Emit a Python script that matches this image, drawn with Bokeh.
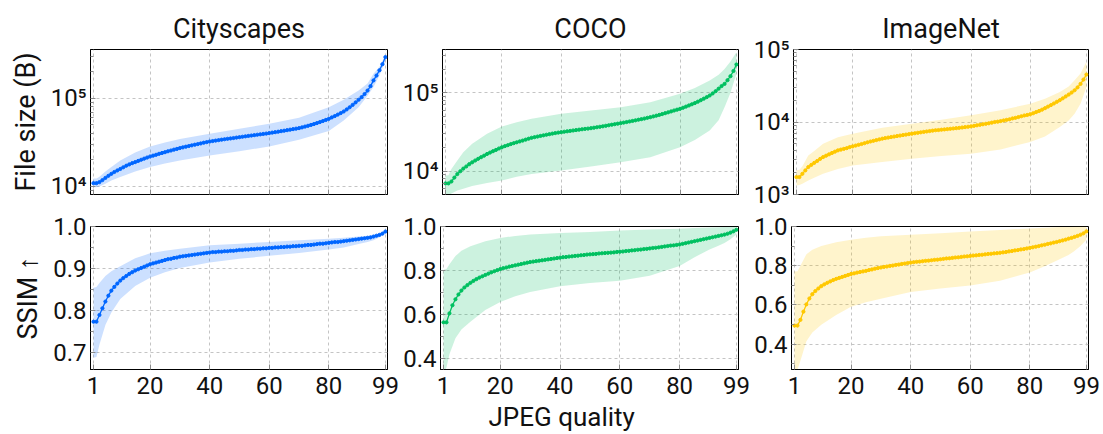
import numpy as np
from bokeh.plotting import figure
from bokeh.layouts import column, row
from bokeh.models import Range1d, FixedTicker, CustomJSTickFormatter, PrintfTickFormatter, Title
from bokeh.embed import file_html
from bokeh.resources import INLINE

# ---------------- data ----------------
QUALITY = list(range(1, 100))
Q_BAND = [1, 2, 3, 5, 7, 10, 15, 20, 25, 30, 40, 50, 60, 70, 80, 85, 90, 93, 95, 97, 99]
X_TICKS = [1, 20, 40, 60, 80, 99]
DATASETS = ["Cityscapes", "COCO", "ImageNet"]
COLORS = ["#0066ff", "#00c060", "#ffc800"]

# File size (kB) mean per quality 1..99
CITY_SIZE_KB = [10.9, 10.9, 11.2, 11.8, 12.5, 13.2, 13.9, 14.6, 15.2, 15.8,
                16.5, 17.2, 17.8, 18.4, 18.9, 19.5, 20.1, 20.7, 21.3, 21.9,
                22.4, 22.9, 23.5, 24.0, 24.5, 25.1, 25.6, 26.2, 26.7, 27.3,
                27.8, 28.3, 28.8, 29.3, 29.8, 30.3, 30.8, 31.4, 31.9, 32.4,
                32.8, 33.2, 33.6, 34.0, 34.4, 34.8, 35.1, 35.5, 35.9, 36.3,
                36.7, 37.1, 37.5, 37.9, 38.3, 38.7, 39.1, 39.5, 39.9, 40.4,
                40.9, 41.4, 41.9, 42.5, 43.0, 43.6, 44.2, 44.8, 45.4, 46.0,
                46.9, 47.9, 48.9, 50.0, 51.2, 52.5, 53.9, 55.4, 57.0, 58.7,
                60.9, 63.1, 65.5, 68.2, 71.1, 75.0, 79.4, 84.5, 90.2, 96.6,
                103.5, 112.2, 123.0, 138.0, 160.3, 182.0, 209.0, 245.0, 295.0]
CITY_SIZE_HI_KB = [12.3, 12.3, 12.9, 14.8, 16.6, 19.7, 24.3, 28.5, 31.6, 34.7, 39.8,
                   45.2, 51.5, 60.3, 79.4, 96.6, 123, 148, 191, 229, 309]
CITY_SIZE_LO_KB = [9.8, 9.8, 10.0, 10.7, 11.7, 12.8, 14.8, 16.6, 18.2, 19.7, 22.5,
                   25.1, 28.5, 33.9, 42.6, 56.2, 79.4, 107, 135, 182, 269]

COCO_SIZE_KB = [7.0, 7.0, 7.4, 8.3, 9.2, 10.0, 10.8, 11.5, 12.3, 13.0,
                13.7, 14.4, 15.1, 15.8, 16.6, 17.3, 18.0, 18.7, 19.5, 20.2,
                20.9, 21.5, 22.2, 22.8, 23.4, 24.0, 24.6, 25.3, 26.0, 26.7,
                27.2, 27.7, 28.2, 28.7, 29.2, 29.7, 30.2, 30.7, 31.1, 31.5,
                31.9, 32.3, 32.7, 33.1, 33.5, 33.9, 34.3, 34.7, 35.0, 35.4,
                35.9, 36.4, 36.9, 37.4, 38.0, 38.6, 39.2, 39.8, 40.4, 41.0,
                41.7, 42.4, 43.1, 43.8, 44.6, 45.4, 46.2, 47.0, 48.0, 48.9,
                50.0, 51.1, 52.3, 53.6, 55.0, 56.4, 57.9, 59.5, 61.0, 62.5,
                64.5, 66.7, 69.0, 71.5, 74.1, 77.1, 80.5, 84.2, 88.1, 92.5,
                98.2, 105.0, 113.0, 122.0, 130.0, 145.0, 163.0, 190.0, 230.0]
COCO_SIZE_HI_KB = [8.8, 8.9, 10.7, 13.7, 17.5, 22.4, 30.0, 37.2, 42.0, 46.6, 54.0,
                   59.6, 65.6, 75.9, 97.0, 115, 144, 170, 202, 251, 330]
COCO_SIZE_LO_KB = [4.8, 4.9, 5.2, 5.7, 6.0, 6.5, 7.1, 7.6, 8.5, 9.2, 10.2,
                   11.5, 13.0, 15.1, 20.2, 25.1, 33.0, 44.7, 65.6, 100, 175]

INET_SIZE_KB = [1.74, 1.74, 1.93, 2.15, 2.39, 2.56, 2.73, 2.90, 3.10, 3.28,
                3.43, 3.58, 3.74, 3.90, 4.06, 4.16, 4.26, 4.36, 4.51, 4.61,
                4.73, 4.85, 4.97, 5.10, 5.25, 5.38, 5.50, 5.63, 5.76, 5.89,
                6.00, 6.10, 6.20, 6.30, 6.40, 6.50, 6.60, 6.70, 6.80, 6.90,
                7.00, 7.10, 7.20, 7.30, 7.40, 7.50, 7.60, 7.70, 7.75, 7.83,
                7.90, 7.98, 8.06, 8.14, 8.22, 8.30, 8.40, 8.50, 8.60, 8.71,
                8.85, 9.00, 9.15, 9.30, 9.45, 9.60, 9.80, 10.0, 10.1, 10.3,
                10.5, 10.7, 10.9, 11.2, 11.4, 11.7, 12.0, 12.3, 12.5, 12.8,
                13.2, 13.7, 14.2, 14.8, 15.5, 16.3, 17.1, 18.0, 19.0, 20.0,
                21.2, 22.5, 23.9, 25.5, 27.4, 30.0, 33.5, 38.5, 45.1]
INET_SIZE_HI_KB = [2.15, 2.19, 2.45, 3.46, 3.98, 5.01, 6.17, 6.90, 7.59, 8.32, 9.48,
                   10.7, 12.4, 14.5, 17.9, 20.9, 26.0, 30.9, 37.7, 46.8, 67.6]
INET_SIZE_LO_KB = [1.33, 1.35, 1.41, 1.56, 1.70, 1.93, 2.24, 2.51, 2.66, 2.80, 3.11,
                   3.39, 3.65, 4.17, 5.30, 6.31, 8.53, 10.5, 13.0, 17.8, 30.5]

# SSIM mean per quality 1..99
CITY_SSIM = [.773, .773, .789, .805, .821, .835, .847, .856, .864, .871,
             .877, .882, .887, .891, .895, .898, .901, .904, .907, .910,
             .912, .914, .916, .918, .920, .922, .923, .925, .926, .928,
             .929, .930, .931, .932, .933, .934, .935, .936, .937, .938,
             .939, .939, .940, .940, .941, .941, .942, .942, .943, .944,
             .944, .945, .945, .946, .946, .947, .947, .948, .948, .949,
             .949, .950, .950, .951, .951, .952, .952, .953, .953, .954,
             .954, .955, .956, .956, .957, .958, .959, .959, .960, .961,
             .962, .963, .963, .964, .965, .966, .967, .968, .969, .970,
             .971, .972, .973, .974, .976, .978, .980, .983, .988]
CITY_SSIM_HI = [.854, .856, .865, .882, .893, .905, .924, .936, .942, .947, .955,
                .959, .963, .967, .971, .973, .976, .978, .980, .983, .988]
CITY_SSIM_LO = [.687, .689, .718, .765, .795, .827, .858, .878, .891, .901, .914,
                .923, .930, .937, .945, .950, .958, .963, .967, .974, .986]

COCO_SSIM = [.563, .563, .604, .641, .668, .690, .708, .722, .733, .743,
             .752, .760, .767, .773, .779, .785, .791, .796, .801, .806,
             .810, .813, .817, .820, .823, .826, .829, .832, .835, .838,
             .840, .842, .844, .846, .848, .850, .852, .854, .856, .858,
             .860, .861, .863, .864, .866, .867, .869, .870, .872, .873,
             .874, .875, .877, .878, .879, .880, .881, .882, .884, .885,
             .886, .888, .889, .891, .892, .894, .895, .897, .898, .900,
             .902, .903, .905, .907, .909, .911, .913, .914, .916, .918,
             .921, .924, .927, .930, .933, .936, .939, .942, .945, .948,
             .951, .954, .957, .960, .963, .967, .972, .978, .985]
COCO_SSIM_HI = [.803, .806, .828, .865, .890, .910, .933, .948, .957, .963, .970,
                .975, .982, .986, .990, .993, .995, .997, .998, .999, 1.0]
COCO_SSIM_LO = [.330, .357, .417, .491, .530, .566, .619, .656, .682, .701, .728,
                .742, .753, .776, .820, .860, .895, .912, .925, .942, .963]

INET_SSIM = [.495, .495, .524, .566, .603, .633, .655, .671, .684, .696,
             .705, .713, .720, .727, .733, .738, .743, .748, .753, .758,
             .761, .765, .768, .771, .774, .778, .781, .785, .788, .791,
             .794, .796, .799, .801, .804, .806, .809, .811, .814, .816,
             .818, .820, .821, .823, .825, .826, .828, .830, .831, .833,
             .835, .837, .838, .840, .842, .843, .845, .847, .848, .850,
             .852, .853, .855, .856, .858, .860, .861, .863, .864, .866,
             .868, .870, .873, .875, .878, .880, .883, .885, .888, .891,
             .894, .897, .900, .904, .907, .911, .914, .918, .921, .925,
             .929, .933, .938, .942, .947, .952, .958, .965, .975]
INET_SSIM_HI = [.770, .772, .800, .858, .882, .900, .920, .933, .943, .950, .958,
                .966, .975, .982, .990, .994, .997, .998, .999, 1.0, 1.0]
INET_SSIM_LO = [.265, .270, .315, .415, .460, .499, .549, .591, .614, .632, .666,
                .684, .699, .724, .766, .797, .833, .855, .875, .900, .933]

SIZE_MEAN = [CITY_SIZE_KB, COCO_SIZE_KB, INET_SIZE_KB]
SIZE_HI = [CITY_SIZE_HI_KB, COCO_SIZE_HI_KB, INET_SIZE_HI_KB]
SIZE_LO = [CITY_SIZE_LO_KB, COCO_SIZE_LO_KB, INET_SIZE_LO_KB]
SSIM_MEAN = [CITY_SSIM, COCO_SSIM, INET_SSIM]
SSIM_HI = [CITY_SSIM_HI, COCO_SSIM_HI, INET_SSIM_HI]
SSIM_LO = [CITY_SSIM_LO, COCO_SSIM_LO, INET_SSIM_LO]

SIZE_YRANGE = [(8.1e3, 3.6e5), (5.05e3, 3.57e5), (1e3, 1e5)]
SSIM_YRANGE = [(0.659, 1.0), (0.348, 1.0), (0.271, 1.0)]
SSIM_MAJOR = [[0.7, 0.8, 0.9, 1.0], [0.4, 0.6, 0.8, 1.0], [0.4, 0.6, 0.8, 1.0]]
SSIM_MINOR = [[0.75, 0.85, 0.95], [0.5, 0.7, 0.9], [0.3, 0.5, 0.7, 0.9]]
LOG_MAJOR = [1e3, 1e4, 1e5]
LOG_MINOR = [m * d for d in (1e3, 1e4, 1e5) for m in range(2, 10)]
X_LABEL = "JPEG quality"

# ---------------- layout ----------------
FONT = "Roboto"
COL_W = [(90, 297, 12), (41, 298, 12), (41, 297, 15)]  # left border, frame, right border
TOP_B = (49, 145, 16)
BOT_B = (16, 146, 62)

SUP = CustomJSTickFormatter(code="""
const s = ['\u2070','\u00b9','\u00b2','\u00b3','\u2074','\u2075','\u2076','\u2077','\u2078','\u2079'];
const e = Math.round(Math.log10(tick));
return '10' + s[e];
""")


def style(p):
    p.outline_line_color = "black"
    p.outline_line_width = 1
    for ax in p.xaxis + p.yaxis:
        ax.axis_line_color = "black"
        ax.major_tick_in = 5
        ax.major_tick_out = 0
        ax.minor_tick_in = 3
        ax.minor_tick_out = 0
        ax.major_tick_line_color = "#8a8a8a"
        ax.minor_tick_line_color = "#8a8a8a"
        ax.major_label_text_font = FONT
        ax.major_label_text_font_size = "24px"
        ax.major_label_text_color = "#111111"
        ax.major_label_standoff = 4
        ax.axis_label_text_font = FONT
        ax.axis_label_text_font_size = "27px"
        ax.axis_label_text_font_style = "normal"
        ax.axis_label_text_color = "#111111"
    p.xaxis.ticker = FixedTicker(ticks=X_TICKS)
    p.xaxis.major_label_standoff = 7
    for g in p.xgrid + p.ygrid:
        g.grid_line_color = "#c4c4c4"
        g.grid_line_dash = "3 3"
        g.grid_line_width = 1


def draw(p, q, mean, qb, lo, hi, color):
    p.varea(x=qb, y1=lo, y2=hi, fill_color=color, fill_alpha=0.2)
    p.line(q, mean, line_color=color, line_width=1.3)
    p.scatter(q, mean, marker="circle", size=3.2, color=color)


top_figs, bot_figs = [], []
for ci in range(3):
    lb, fw, rb = COL_W[ci]
    # --- file size ---
    p = figure(width=lb + fw + rb, height=sum(TOP_B), y_axis_type="log",
               x_range=Range1d(0, 99.7), y_range=Range1d(*SIZE_YRANGE[ci]),
               output_backend="svg", toolbar_location=None,
               min_border_left=lb, min_border_right=rb,
               min_border_top=TOP_B[0], min_border_bottom=TOP_B[2])
    p.title.text = DATASETS[ci]
    p.title.align = "center"
    p.title.text_font = FONT
    p.title.text_font_size = "27px"
    p.title.text_font_style = "normal"
    p.title.text_color = "#111111"
    style(p)
    p.yaxis.ticker = FixedTicker(ticks=LOG_MAJOR, minor_ticks=LOG_MINOR)
    p.yaxis.formatter = SUP
    p.xaxis.major_label_text_color = None
    p.xaxis.major_label_standoff = 0
    if ci == 0:
        p.yaxis.axis_label = "File size (B)"
        p.yaxis.axis_label_standoff = 6
    kb = 1000.0
    draw(p, QUALITY, np.array(SIZE_MEAN[ci]) * kb, Q_BAND,
         np.array(SIZE_LO[ci]) * kb, np.array(SIZE_HI[ci]) * kb, COLORS[ci])
    top_figs.append(p)

    # --- SSIM ---
    p = figure(width=lb + fw + rb, height=sum(BOT_B),
               x_range=Range1d(0, 99.7), y_range=Range1d(*SSIM_YRANGE[ci]),
               output_backend="svg", toolbar_location=None,
               min_border_left=lb, min_border_right=rb,
               min_border_top=BOT_B[0], min_border_bottom=BOT_B[2])
    style(p)
    p.yaxis.ticker = FixedTicker(ticks=SSIM_MAJOR[ci], minor_ticks=SSIM_MINOR[ci])
    p.yaxis.formatter = PrintfTickFormatter(format="%.1f")
    if ci == 0:
        p.yaxis.axis_label = "SSIM \u2191"
        p.yaxis.axis_label_standoff = 6
    if ci == 1:
        p.add_layout(Title(text=X_LABEL, align="left", offset=48, standoff=6,
                           text_font=FONT, text_font_size="26px",
                           text_font_style="normal", text_color="#111111"), "below")
    draw(p, QUALITY, SSIM_MEAN[ci], Q_BAND, SSIM_LO[ci], SSIM_HI[ci], COLORS[ci])
    bot_figs.append(p)

layout = column(row(*top_figs), row(*bot_figs))

open("out.html", "w").write(file_html(layout, INLINE))
